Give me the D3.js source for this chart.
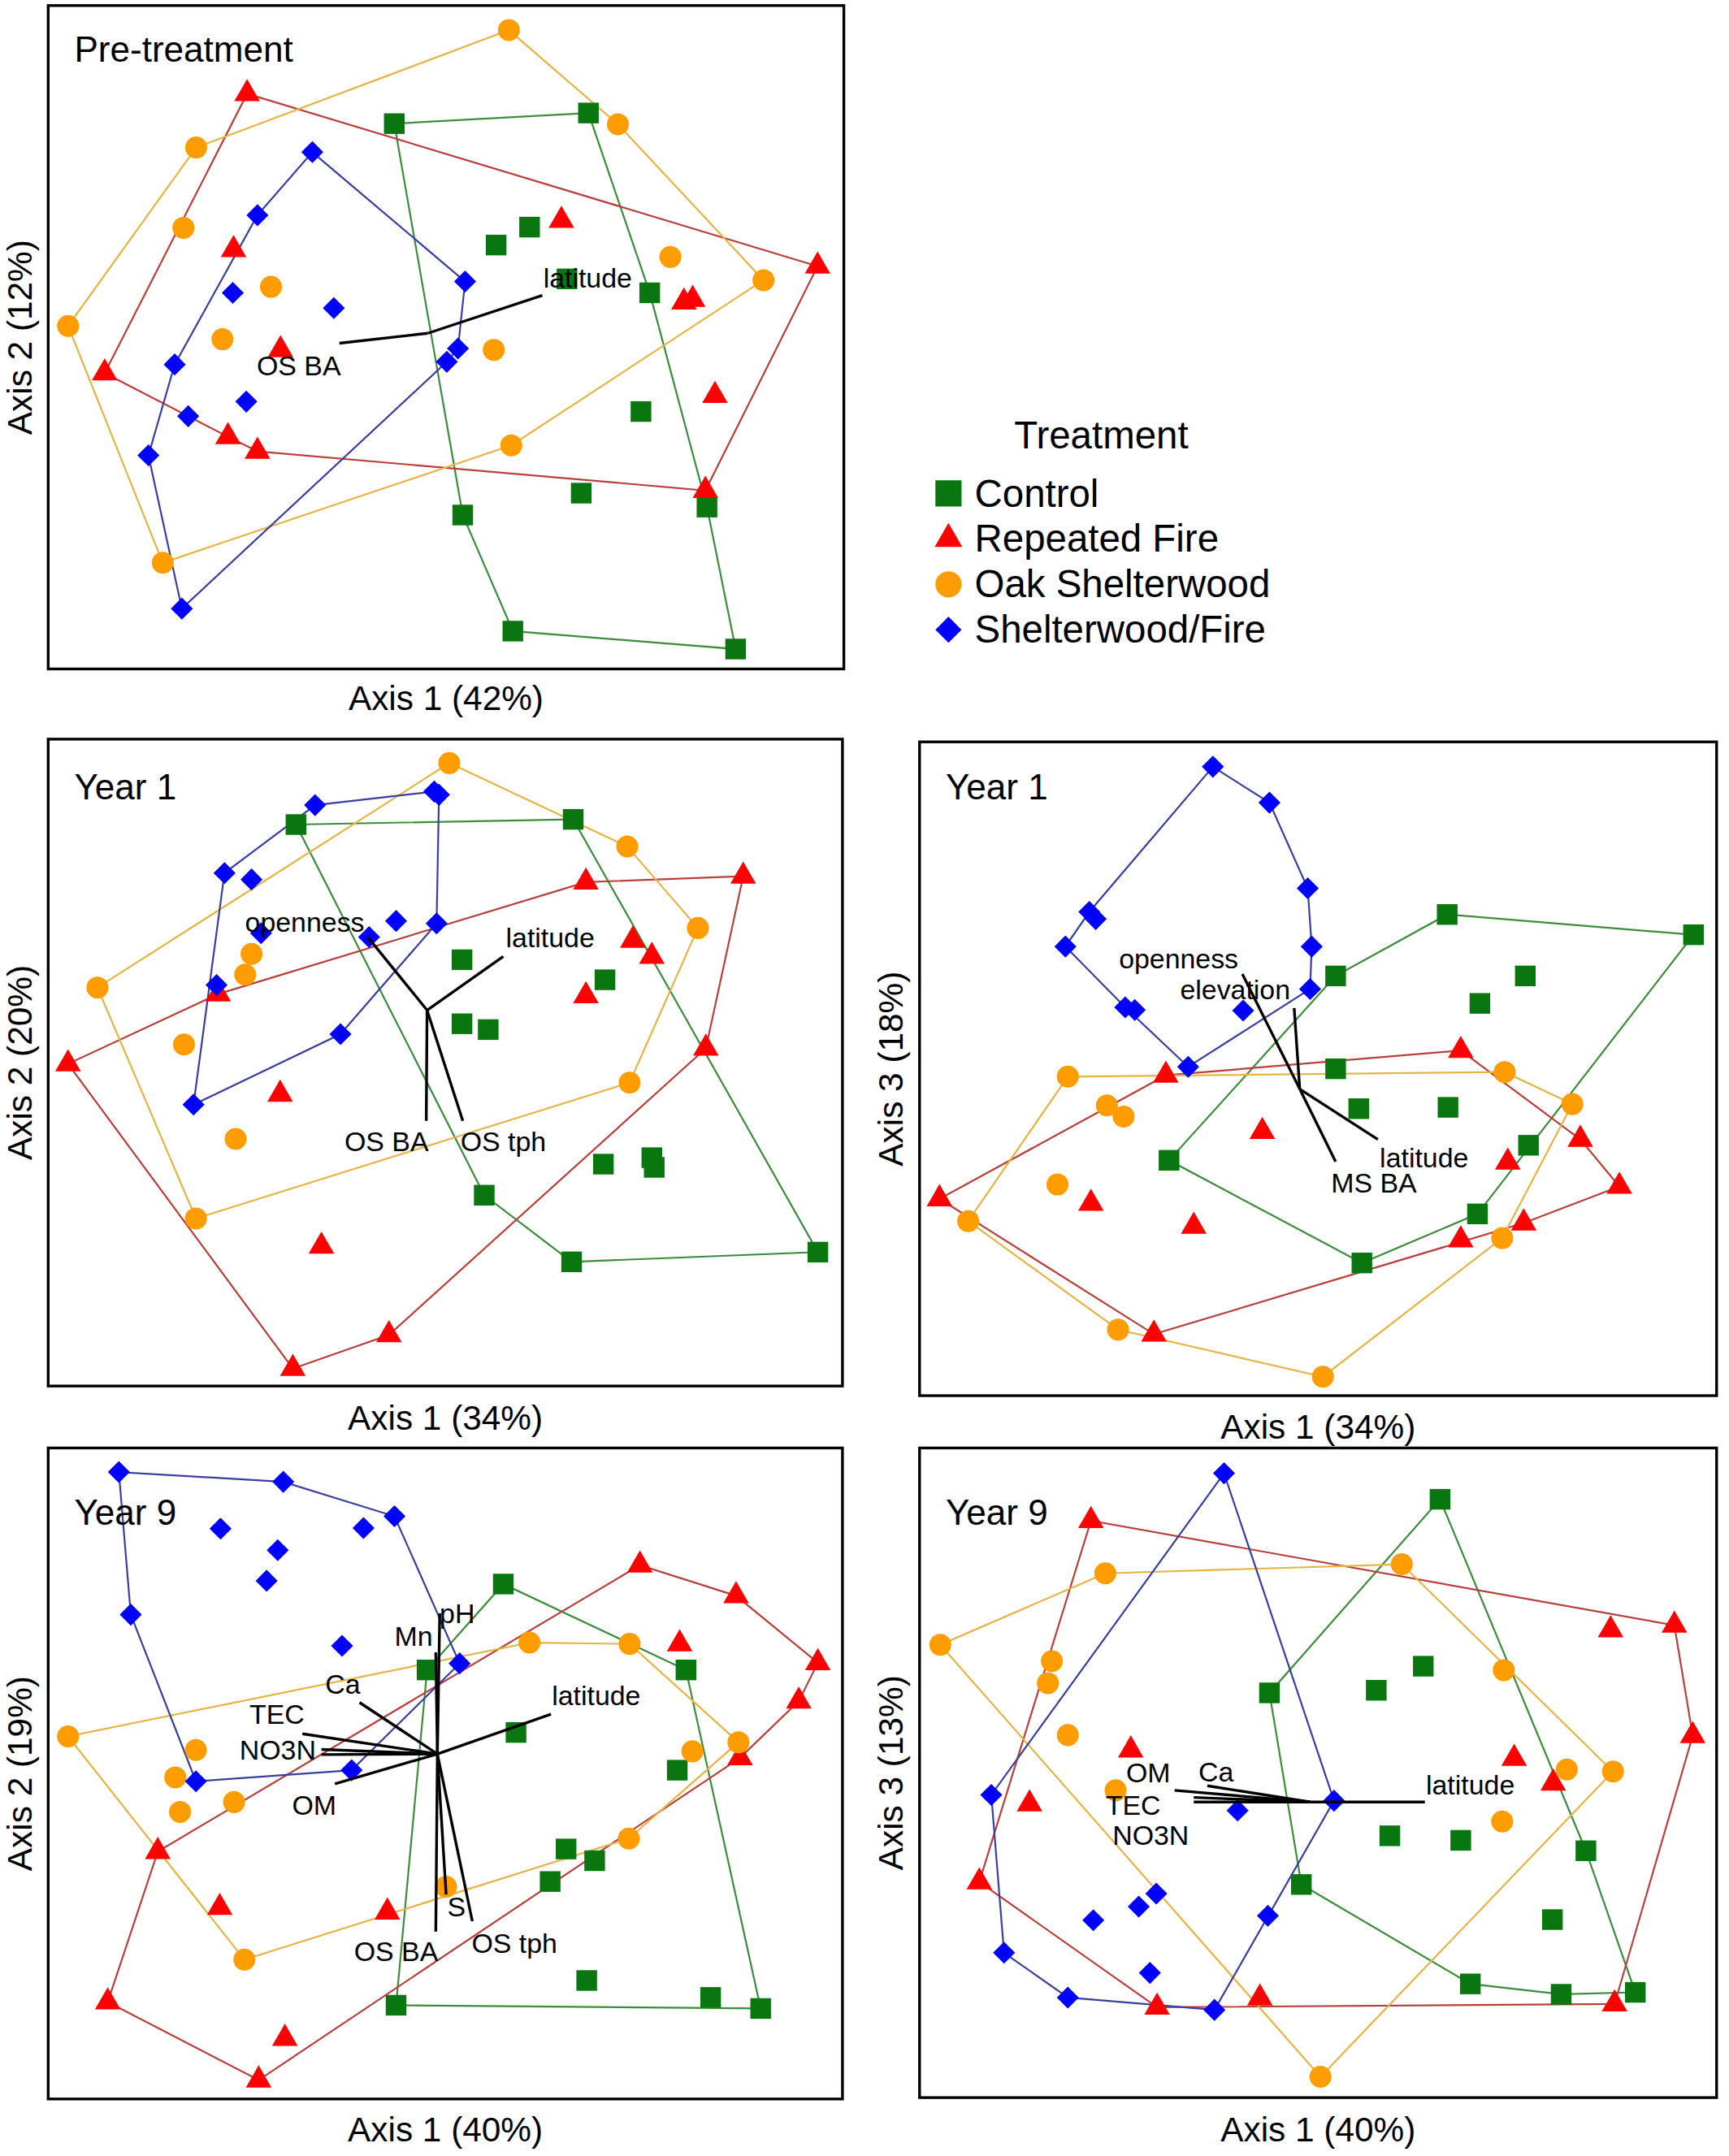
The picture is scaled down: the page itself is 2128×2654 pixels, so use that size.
<!DOCTYPE html>
<html>
<head>
<meta charset="utf-8">
<script src="https://cdn.jsdelivr.net/npm/d3@7"></script>
<style>
  body { margin: 0; background: #fff; }
  svg { display: block; }
  text { font-family: 'Liberation Sans', Arial, sans-serif; fill: #000; }
</style>
</head>
<body>
<div id="chart"></div>
<script>
// treatments
const treatments = ['control', 'fire', 'oak', 'swf']
const treatmentNames = ['Control', 'Repeated Fire', 'Oak Shelterwood', 'Shelterwood/Fire']

// ordination scores, scaled 0-100 on each axis (x = axis 1, y = second axis)
// Pre-treatment, axis 1 vs axis 2
const preControl = [[43.5, 82.2], [67.9, 83.8], [56.3, 63.9], [60.5, 66.6], [75.6, 56.7], [65.2, 58.8], [74.5, 38.8], [67.0, 26.5], [82.8, 24.4], [52.1, 23.2], [58.4, 5.7], [86.4, 3.0]]
const preFire = [[25.0, 86.7], [64.5, 67.6], [23.3, 63.2], [96.7, 60.7], [79.9, 55.3], [81.0, 55.7], [29.2, 48.1], [7.1, 44.6], [22.6, 35.0], [26.3, 32.8], [83.8, 41.2], [82.6, 26.9]]
const preOak = [[57.9, 96.3], [71.6, 82.1], [18.6, 78.6], [17.0, 66.5], [78.2, 62.1], [89.9, 58.6], [28.0, 57.6], [2.5, 51.7], [21.9, 49.7], [56.0, 48.1], [58.2, 33.7], [14.4, 16.0]]
const preSwf = [[33.2, 77.9], [26.3, 68.4], [52.4, 58.4], [23.2, 56.7], [35.9, 54.4], [51.5, 48.3], [50.1, 46.3], [15.9, 45.9], [24.9, 40.3], [17.6, 38.1], [12.6, 32.2], [16.8, 9.1]]
const preCenter = [47.7, 50.6]
const preVectors = [
  { name: 'latitude', x: 62.1, y: 56.3, lx: 67.8, ly: 59.0 },
  { name: 'OS BA', x: 36.6, y: 49.1, lx: 31.5, ly: 45.7 }
]

// Year 1, axis 1 vs axis 2
const y1aControl = [[31.2, 86.8], [66.1, 87.6], [52.1, 65.9], [70.1, 62.8], [52.1, 56.0], [55.4, 55.1], [69.9, 34.3], [76.0, 35.3], [76.3, 33.8], [54.9, 29.5], [65.9, 19.2], [96.9, 20.7]]
const y1aFire = [[67.7, 77.9], [87.5, 78.8], [73.6, 68.9], [76.0, 66.4], [67.7, 60.3], [21.4, 60.6], [2.5, 49.8], [29.2, 45.1], [82.8, 52.2], [34.4, 21.6], [42.9, 7.9], [30.8, 2.7]]
const y1aOak = [[50.5, 96.3], [72.9, 83.4], [81.8, 70.8], [73.2, 46.9], [6.2, 61.6], [25.6, 66.8], [24.8, 63.6], [17.1, 52.8], [23.6, 38.2], [18.6, 25.9]]
const y1aSwf = [[33.6, 89.8], [48.6, 91.9], [49.2, 91.4], [22.2, 79.3], [25.6, 78.3], [43.8, 71.9], [48.9, 71.5], [26.8, 70.0], [40.4, 69.4], [21.2, 62.0], [36.8, 54.4], [18.3, 43.5]]
const y1aCenter = [47.7, 58.1]
const y1aVectors = [
  { name: 'openness', x: 40.3, y: 69.3, lx: 32.3, ly: 71.7 },
  { name: 'latitude', x: 57.3, y: 66.4, lx: 63.2, ly: 69.3 },
  { name: 'OS BA', x: 47.6, y: 41.0, lx: 42.6, ly: 37.8 },
  { name: 'OS tph', x: 52.2, y: 41.0, lx: 57.3, ly: 37.8 }
]

// Year 1, axis 1 vs axis 3
const y1bControl = [[66.2, 73.6], [97.1, 70.5], [52.2, 64.2], [76.0, 64.2], [70.3, 60.0], [52.2, 50.0], [55.1, 43.9], [66.3, 44.1], [76.4, 38.3], [31.3, 36.0], [70.0, 27.8], [55.5, 20.3]]
const y1bFire = [[67.9, 52.8], [30.9, 49.0], [82.9, 39.2], [43.0, 40.4], [73.8, 35.7], [87.8, 32.0], [2.5, 30.1], [21.5, 29.4], [34.4, 25.9], [75.8, 26.4], [67.9, 23.8], [29.4, 9.4]]
const y1bOak = [[18.6, 48.8], [73.4, 49.5], [81.9, 44.6], [23.5, 44.4], [25.6, 42.7], [17.3, 32.3], [6.1, 26.7], [73.1, 24.1], [24.9, 10.1], [50.6, 2.9]]
const y1bSwf = [[36.8, 96.2], [43.9, 90.7], [48.7, 77.6], [49.2, 68.7], [49.0, 62.2], [21.3, 74.0], [22.1, 72.9], [18.3, 68.7], [25.8, 59.4], [27.0, 59.0], [40.6, 58.9], [33.7, 50.3]]
const y1bCenter = [47.7, 46.9]
const y1bVectors = [
  { name: 'openness', x: 40.5, y: 64.5, lx: 32.5, ly: 66.9 },
  { name: 'elevation', x: 47.0, y: 59.3, lx: 39.6, ly: 62.1 },
  { name: 'latitude', x: 57.5, y: 39.2, lx: 63.3, ly: 36.4 },
  { name: 'MS BA', x: 52.2, y: 35.8, lx: 57.0, ly: 32.5 }
]

// Year 9, axis 1 vs axis 2
const y9aControl = [[57.3, 79.1], [47.7, 65.9], [80.3, 65.9], [58.9, 56.3], [79.2, 50.5], [65.2, 38.4], [68.8, 36.6], [63.2, 33.4], [67.8, 18.2], [43.8, 14.4], [83.4, 15.6], [89.7, 13.9]]
const y9aFire = [[74.5, 82.0], [86.6, 77.3], [79.5, 69.9], [96.9, 67.0], [94.5, 61.1], [87.1, 52.4], [13.8, 38.0], [21.6, 29.4], [42.7, 28.7], [7.5, 14.9], [29.8, 9.3], [26.5, 2.9]]
const y9aOak = [[2.5, 55.7], [60.6, 70.1], [73.2, 69.9], [86.9, 54.8], [81.1, 53.4], [18.6, 53.6], [16.0, 49.4], [16.6, 44.1], [23.4, 45.6], [73.1, 40.0], [50.1, 32.6], [24.7, 21.4]]
const y9aSwf = [[8.9, 96.3], [29.6, 94.8], [43.6, 89.5], [21.7, 87.6], [39.7, 87.7], [28.9, 84.3], [27.5, 79.6], [10.4, 74.4], [37.0, 69.6], [51.8, 66.9], [18.6, 48.8], [38.2, 50.5]]
const y9aCenter = [49.0, 53.0]
const y9aVectors = [
  { name: 'pH', x: 49.3, y: 74.6, lx: 51.5, ly: 74.6 },
  { name: 'Mn', x: 48.8, y: 68.6, lx: 46.0, ly: 71.1 },
  { name: 'Ca', x: 39.2, y: 60.9, lx: 37.1, ly: 63.7 },
  { name: 'TEC', x: 32.0, y: 56.1, lx: 28.8, ly: 59.1 },
  { name: 'NO3N', x: 34.4, y: 53.7, lx: 28.9, ly: 53.6 },
  { name: '', x: 34.4, y: 52.9 },
  { name: 'OM', x: 36.1, y: 48.4, lx: 33.5, ly: 45.1 },
  { name: 'latitude', x: 63.3, y: 59.1, lx: 69.0, ly: 62.0 },
  { name: 'S', x: 50.1, y: 31.4, lx: 51.4, ly: 29.6 },
  { name: 'OS BA', x: 48.8, y: 25.7, lx: 43.8, ly: 22.7 },
  { name: 'OS tph', x: 53.4, y: 27.3, lx: 58.7, ly: 23.9 }
]

// Year 9, axis 1 vs axis 3
const y9bControl = [[65.3, 92.1], [43.9, 62.3], [57.3, 62.7], [63.2, 66.4], [59.0, 40.3], [67.9, 39.6], [83.6, 38.0], [47.9, 32.8], [79.4, 27.4], [69.1, 17.5], [80.5, 15.9], [89.8, 16.2]]
const y9bFire = [[21.5, 88.8], [94.7, 72.7], [86.7, 72.0], [97.0, 55.7], [26.5, 53.5], [74.6, 52.2], [79.5, 48.4], [13.8, 45.2], [7.5, 33.2], [29.8, 13.9], [42.7, 15.3], [87.2, 14.4]]
const y9bOak = [[60.5, 82.1], [23.3, 80.7], [2.6, 69.7], [16.6, 67.2], [16.1, 63.8], [18.6, 55.8], [73.3, 65.8], [81.2, 50.5], [87.0, 50.2], [24.6, 47.3], [73.1, 42.5], [50.3, 3.2]]
const y9bSwf = [[38.2, 96.1], [9.0, 46.6], [52.0, 45.7], [39.9, 44.2], [29.7, 31.4], [27.5, 29.4], [21.8, 27.3], [43.7, 28.0], [10.6, 22.3], [28.9, 19.2], [18.6, 15.4], [37.0, 13.5]]
const y9bCenter = [49.0, 45.5]
const y9bVectors = [
  { name: 'latitude', x: 63.4, y: 45.5, lx: 69.1, ly: 48.2 },
  { name: 'OM', x: 32.0, y: 47.3, lx: 28.7, ly: 50.0 },
  { name: 'Ca', x: 36.1, y: 48.0, lx: 37.2, ly: 50.2 },
  { name: 'TEC', x: 34.4, y: 46.2, lx: 26.8, ly: 45.0 },
  { name: 'NO3N', x: 34.4, y: 45.5, lx: 29.0, ly: 40.4 }
]

// styles
const fill = { control: '#0a760f', fire: '#ff0000', oak: '#ff9c00', swf: '#0000ff' }
const hullStroke = { control: '#3d8c3d', fire: '#b8403c', oak: '#e6b445', swf: '#3a3e9e' }
const markSize = { control: 225, fire: 150, oak: 200, swf: 128 }
const legendSize = { control: 361, fire: 175, oak: 285, swf: 180 }

function symbolPath (t, size) {
  if (t === 'swf') return d3.symbol(d3.symbolSquare, size)()
  const type = { control: d3.symbolSquare, fire: d3.symbolTriangle, oak: d3.symbolCircle }[t]
  return d3.symbol(type, size)()
}
function symbolRotate (t) { return t === 'swf' ? ' rotate(45)' : '' }

const panels = [
  { title: 'Pre-treatment', xTitle: 'Axis 1 (42%)', yTitle: 'Axis 2 (12%)', box: { x: 35, y: 4, w: 578, h: 482 }, titleY: 45, xTitleY: 516,
    data: { control: preControl, fire: preFire, oak: preOak, swf: preSwf }, center: preCenter, vectors: preVectors },
  { title: 'Year 1', xTitle: 'Axis 1 (34%)', yTitle: 'Axis 2 (20%)', box: { x: 35, y: 537, w: 577, h: 470 }, titleY: 581, xTitleY: 1039,
    data: { control: y1aControl, fire: y1aFire, oak: y1aOak, swf: y1aSwf }, center: y1aCenter, vectors: y1aVectors },
  { title: 'Year 1', xTitle: 'Axis 1 (34%)', yTitle: 'Axis 3 (18%)', box: { x: 668, y: 539, w: 579, h: 475 }, titleY: 581, xTitleY: 1045,
    data: { control: y1bControl, fire: y1bFire, oak: y1bOak, swf: y1bSwf }, center: y1bCenter, vectors: y1bVectors },
  { title: 'Year 9', xTitle: 'Axis 1 (40%)', yTitle: 'Axis 2 (19%)', box: { x: 35, y: 1052, w: 577, h: 473 }, titleY: 1108, xTitleY: 1556,
    data: { control: y9aControl, fire: y9aFire, oak: y9aOak, swf: y9aSwf }, center: y9aCenter, vectors: y9aVectors },
  { title: 'Year 9', xTitle: 'Axis 1 (40%)', yTitle: 'Axis 3 (13%)', box: { x: 668, y: 1052, w: 579, h: 472 }, titleY: 1108, xTitleY: 1556,
    data: { control: y9bControl, fire: y9bFire, oak: y9bOak, swf: y9bSwf }, center: y9bCenter, vectors: y9bVectors }
]

const svg = d3.select('#chart')
  .append('svg')
  .attr('width', 2128)
  .attr('height', 2654)
  .attr('viewBox', '0 0 1256 1566.4')

panels.forEach(function (p) {
  const b = p.box
  const xScale = d3.scaleLinear().domain([0, 100]).range([b.x, b.x + b.w])
  const yScale = d3.scaleLinear().domain([0, 100]).range([b.y + b.h, b.y])
  const g = svg.append('g').classed('panel', true)

  // hulls
  treatments.forEach(function (t) {
    const hull = d3.polygonHull(p.data[t].map((d) => [xScale(d[0]), yScale(d[1])]))
    g.append('path')
      .attr('d', 'M' + hull.join('L') + 'Z')
      .attr('fill', 'none')
      .attr('stroke', hullStroke[t])
      .attr('stroke-width', 1.3)
  })

  // points
  treatments.forEach(function (t) {
    g.append('g')
      .selectAll('path')
      .data(p.data[t])
      .enter()
      .append('path')
      .attr('d', symbolPath(t, markSize[t]))
      .attr('transform', (d) => `translate(${xScale(d[0])},${yScale(d[1])})` + symbolRotate(t))
      .attr('fill', fill[t])
  })

  // biplot vectors
  g.append('g')
    .selectAll('line')
    .data(p.vectors)
    .enter()
    .append('line')
    .attr('x1', xScale(p.center[0]))
    .attr('y1', yScale(p.center[1]))
    .attr('x2', (d) => xScale(d.x))
    .attr('y2', (d) => yScale(d.y))
    .attr('stroke', '#000')
    .attr('stroke-width', 2)

  g.append('g')
    .selectAll('text')
    .data(p.vectors.filter((d) => d.name))
    .enter()
    .append('text')
    .attr('x', (d) => xScale(d.lx))
    .attr('y', (d) => yScale(d.ly))
    .attr('text-anchor', 'middle')
    .attr('dominant-baseline', 'central')
    .style('font-size', '20px')
    .text((d) => d.name)

  // frame
  g.append('rect')
    .attr('x', b.x)
    .attr('y', b.y)
    .attr('width', b.w)
    .attr('height', b.h)
    .attr('fill', 'none')
    .attr('stroke', '#000')
    .attr('stroke-width', 2)

  g.append('text')
    .attr('x', b.x + 19)
    .attr('y', p.titleY)
    .style('font-size', '26px')
    .text(p.title)

  g.append('text')
    .attr('x', b.x + b.w / 2)
    .attr('y', p.xTitleY)
    .attr('text-anchor', 'middle')
    .style('font-size', '25px')
    .text(p.xTitle)

  g.append('text')
    .attr('transform', `translate(${b.x - 12},${b.y + b.h / 2}) rotate(-90)`)
    .attr('text-anchor', 'middle')
    .style('font-size', '25px')
    .text(p.yTitle)
})

// legend
const legend = svg.append('g').classed('legend', true)
legend.append('text')
  .attr('x', 800)
  .attr('y', 326)
  .attr('text-anchor', 'middle')
  .style('font-size', '28px')
  .text('Treatment')

const item = legend.selectAll('.item')
  .data(treatments)
  .enter()
  .append('g')
  .classed('item', true)
  .attr('transform', (d, i) => `translate(0,${i * 33})`)

item.append('path')
  .attr('d', (d) => symbolPath(d, legendSize[d]))
  .attr('transform', (d) => 'translate(689,358.5)' + symbolRotate(d))
  .attr('fill', (d) => fill[d])

item.append('text')
  .attr('x', 708)
  .attr('y', 368)
  .style('font-size', '28px')
  .text((d, i) => treatmentNames[i])
</script>
</body>
</html>
